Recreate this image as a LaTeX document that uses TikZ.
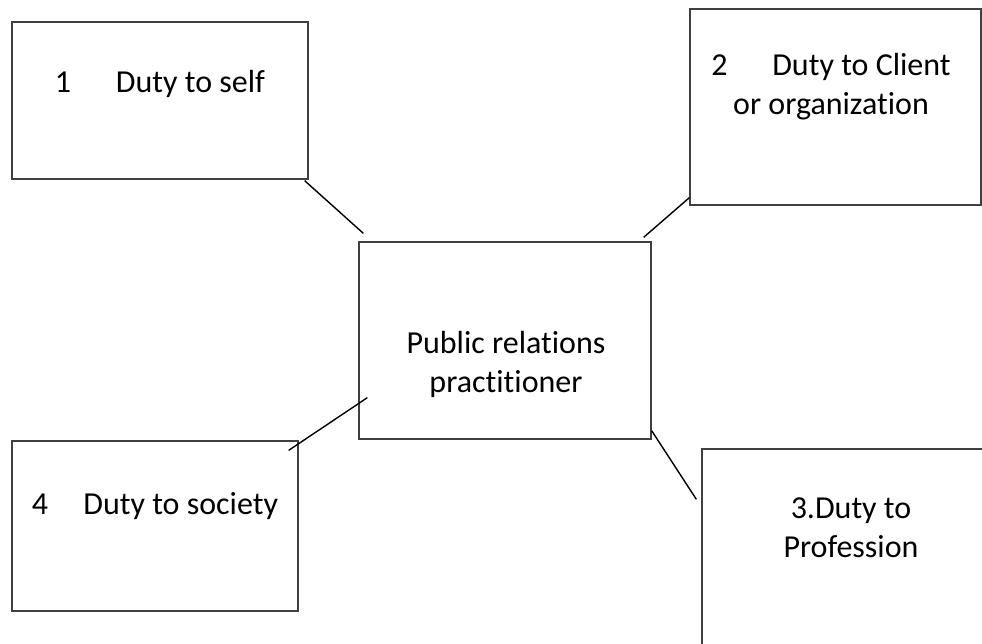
\documentclass[tikz,border=0pt]{standalone}
\usepackage{fontspec}
\setmainfont[Ligatures=NoCommon]{Carlito}
\usepackage{tikz}
\usetikzlibrary{calc}

\tikzset{
  dutybox/.style={draw=black!75,line width=1.3pt,inner sep=0pt,minimum width=#1},
  dutytext/.style={font=\fontsize{32}{39}\selectfont,align=center,inner sep=0pt,anchor=base},
  tieline/.style={line width=1.4pt}
}

\begin{document}
\begin{tikzpicture}[x=1pt,y=-1pt]

\useasboundingbox (0,0) rectangle (982,643) ;
\clip (0,0) rectangle (982,643) ;

\node[dutybox=296pt,minimum height=157pt] (b1) at (160,100.5) {} ;
\node[dutybox=291pt,minimum height=196pt] (b2) at (835.5,107) {} ;
\node[dutybox=292pt,minimum height=197pt] (ctr) at (505,340.5) {} ;
\node[dutybox=298pt,minimum height=251pt] (b3) at (851,574.5) {} ;
\node[dutybox=286pt,minimum height=170pt] (b4) at (155,526) {} ;

\node[dutytext] (t1) at (160,92) {1\hspace{1.4em}Duty to self} ;
\node[dutytext] (t2) at (831,114) {2\hspace{1.4em}Duty to Client\\or organization} ;
\node[dutytext] (tc) at (506,392) {Public relations\\practitioner} ;
\node[dutytext] (t3) at (851,557) {3.Duty to\\Profession} ;
\node[dutytext] (t4) at (155,514) {4\hspace{1.1em}Duty to society} ;

\draw[tieline] ($(b1.south east)+(-4,1)$) -- ($(ctr.north west)+(5,-8)$) ;
\draw[tieline] ($(ctr.north east)+(-8,-4)$) -- ($(b2.south west)+(0,-8)$) ;
\draw[tieline] ($(ctr.south west)+(9,-42)$) -- ($(b4.north east)+(-10,10)$) ;
\draw[tieline] ($(ctr.south east)+(0,-9)$) -- ($(b3.north west)+(-5,51)$) ;

\end{tikzpicture}
\end{document}
